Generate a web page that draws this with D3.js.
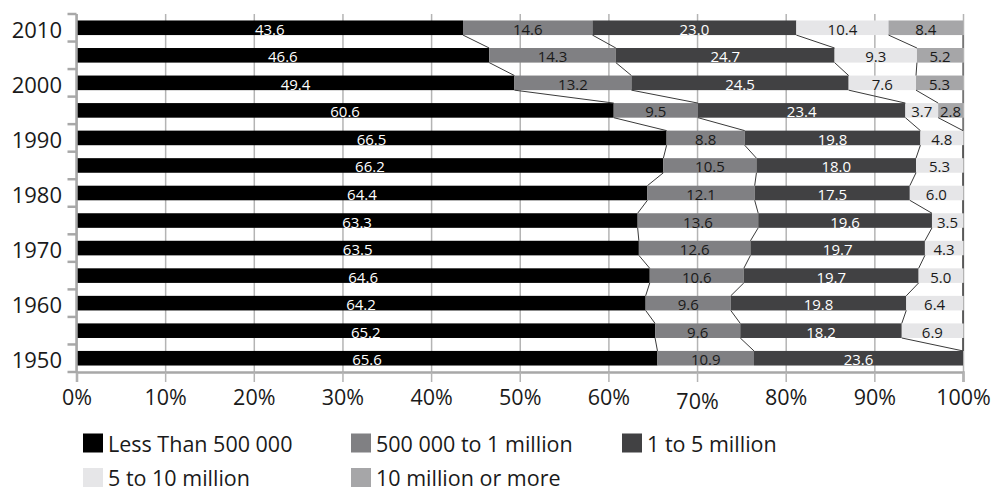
<!DOCTYPE html>
<html>
<head>
<meta charset="utf-8">
<script src="https://cdn.jsdelivr.net/npm/d3@7"></script>
<style>
  html, body { margin: 0; padding: 0; background: #fff; }
  svg { display: block; font-family: "Open Sans", "Noto Sans", sans-serif; }
</style>
</head>
<body>
<svg id="chart" width="996" height="489"></svg>
<script>
// Share of urban population by city-size class, 1950–2010 (percent)
const years = [2010, 2005, 2000, 1995, 1990, 1985, 1980, 1975, 1970, 1965, 1960, 1955, 1950];
const seriesNames = ["Less Than 500 000", "500 000 to 1 million", "1 to 5 million", "5 to 10 million", "10 million or more"];
const lessThan500k = [43.6, 46.6, 49.4, 60.6, 66.5, 66.2, 64.4, 63.3, 63.5, 64.6, 64.2, 65.2, 65.6];
const from500kTo1m = [14.6, 14.3, 13.2, 9.5, 8.8, 10.5, 12.1, 13.6, 12.6, 10.6, 9.6, 9.6, 10.9];
const from1mTo5m   = [23.0, 24.7, 24.5, 23.4, 19.8, 18.0, 17.5, 19.6, 19.7, 19.7, 19.8, 18.2, 23.6];
const from5mTo10m  = [10.4, 9.3, 7.6, 3.7, 4.8, 5.3, 6.0, 3.5, 4.3, 5.0, 6.4, 6.9, 0];
const over10m      = [8.4, 5.2, 5.3, 2.8, 0, 0, 0, 0, 0, 0, 0, 0, 0];
const xTickValues = [0, 0.1, 0.2, 0.3, 0.4, 0.5, 0.6, 0.7, 0.8, 0.9, 1];
const yearLabels = [2010, 2000, 1990, 1980, 1970, 1960, 1950];

const seriesValues = [lessThan500k, from500kTo1m, from1mTo5m, from5mTo10m, over10m];
const fills = ["#000000", "#808083", "#414143", "#e6e6e8", "#a6a6a8"];
const labelFills = ["#ffffff", "#1a1a1a", "#ffffff", "#1a1a1a", "#1a1a1a"];

const rows = years.map((yr, i) => {
  const r = { year: yr };
  seriesNames.forEach((s, k) => { r[s] = seriesValues[k][i]; });
  return r;
});

const stacked = d3.stack().keys(seriesNames).offset(d3.stackOffsetExpand)(rows);

const svg = d3.select("#chart");
const plotLeft = 76.5, plotRight = 963, plotTop = 14, plotBottom = 372;

const x = d3.scaleLinear().domain([0, 1]).range([plotLeft, plotRight]);
const y = d3.scaleBand().domain(years).range([plotTop, plotBottom]).paddingInner(0.47).paddingOuter(0.235);

// vertical gridlines
const grid = svg.append("g").attr("transform", `translate(0,${plotBottom})`)
  .call(d3.axisBottom(x).tickValues(xTickValues).tickSize(-(plotBottom - plotTop)).tickFormat(""));
grid.select(".domain").remove();
grid.selectAll(".tick line").attr("stroke", "#b4b4b4").attr("stroke-width", 1.5);

// x axis with percentage labels
const xAxis = svg.append("g").attr("transform", `translate(0,${plotBottom})`)
  .call(d3.axisBottom(x).tickValues(xTickValues).tickSize(10).tickPadding(6).tickFormat(d3.format(".0%")));
xAxis.select(".domain").attr("stroke", "#a8a8a8").attr("stroke-width", 2.5);
xAxis.selectAll(".tick line").attr("stroke", "#b4b4b4").attr("stroke-width", 1.5);
xAxis.selectAll(".tick text")
  .attr("font-size", 21.5).attr("fill", "#1a1a1a")
  .attr("font-family", "'Open Sans', sans-serif")
  .attr("dy", d => Math.round(d * 100) === 70 ? "0.98em" : "0.8em");

// bars
const layer = svg.append("g").selectAll("g").data(stacked).join("g")
  .attr("fill", (d, k) => fills[k]);
layer.selectAll("rect").data(d => d).join("rect")
  .attr("x", d => x(d[0]))
  .attr("width", d => Math.max(0, x(d[1]) - x(d[0])))
  .attr("y", d => y(d.data.year))
  .attr("height", y.bandwidth());

// series lines connecting the end of each segment between adjacent bars
const lineG = svg.append("g").attr("stroke", "#3a3a3a").attr("stroke-width", 1).attr("fill", "none");
stacked.forEach(s => {
  for (let i = 0; i < s.length - 1; i++) {
    const a = s[i], b = s[i + 1];
    lineG.append("line")
      .attr("x1", x(a[1])).attr("y1", y(a.data.year) + y.bandwidth())
      .attr("x2", x(b[1])).attr("y2", y(b.data.year));
  }
});

// value labels
stacked.forEach((s, k) => {
  svg.append("g").selectAll("text").data(s.filter((d, i) => seriesValues[k][i] > 0)).join("text")
    .attr("x", d => (x(d[0]) + x(d[1])) / 2)
    .attr("y", d => y(d.data.year) + y.bandwidth() / 2 + 1)
    .attr("text-anchor", "middle")
    .attr("dominant-baseline", "central")
    .attr("font-size", 15)
    .attr("fill", labelFills[k])
    .text(d => d3.format(".1f")(seriesValues[k][years.indexOf(d.data.year)]));
});

// left axis: line, ticks at band boundaries, labels every ten years
const yAxis = svg.append("g");
yAxis.append("line").attr("x1", plotLeft).attr("x2", plotLeft).attr("y1", plotTop).attr("y2", plotBottom + 1)
  .attr("stroke", "#a8a8a8").attr("stroke-width", 2.5);
const half = (y.step() - y.bandwidth()) / 2;
const boundaries = years.map(yr => y(yr) - half).concat([plotBottom]);
yAxis.selectAll(".yt").data(boundaries).join("line")
  .attr("x1", plotLeft - 9).attr("x2", plotLeft).attr("y1", d => d).attr("y2", d => d)
  .attr("stroke", "#a8a8a8").attr("stroke-width", 2.5);
yAxis.selectAll("text").data(yearLabels).join("text")
  .attr("x", 62).attr("y", d => y(d) + y.bandwidth() / 2 + 1)
  .attr("text-anchor", "end").attr("dominant-baseline", "central")
  .attr("font-size", 22).attr("fill", "#1a1a1a")
  .text(d => d);

// legend
const legendPos = [[83, 443], [351, 443], [622, 443], [83, 477.5], [351, 477.5]];
const legend = svg.append("g").selectAll("g").data(seriesNames).join("g")
  .attr("transform", (d, k) => `translate(${legendPos[k][0]},${legendPos[k][1]})`);
legend.append("rect").attr("x", 0).attr("y", -9.5).attr("width", 20).attr("height", 19)
  .attr("fill", (d, k) => fills[k]);
legend.append("text").attr("x", 25).attr("y", 0).attr("dominant-baseline", "central")
  .attr("font-size", 21.5).attr("fill", "#1a1a1a").text(d => d);
</script>
</body>
</html>
